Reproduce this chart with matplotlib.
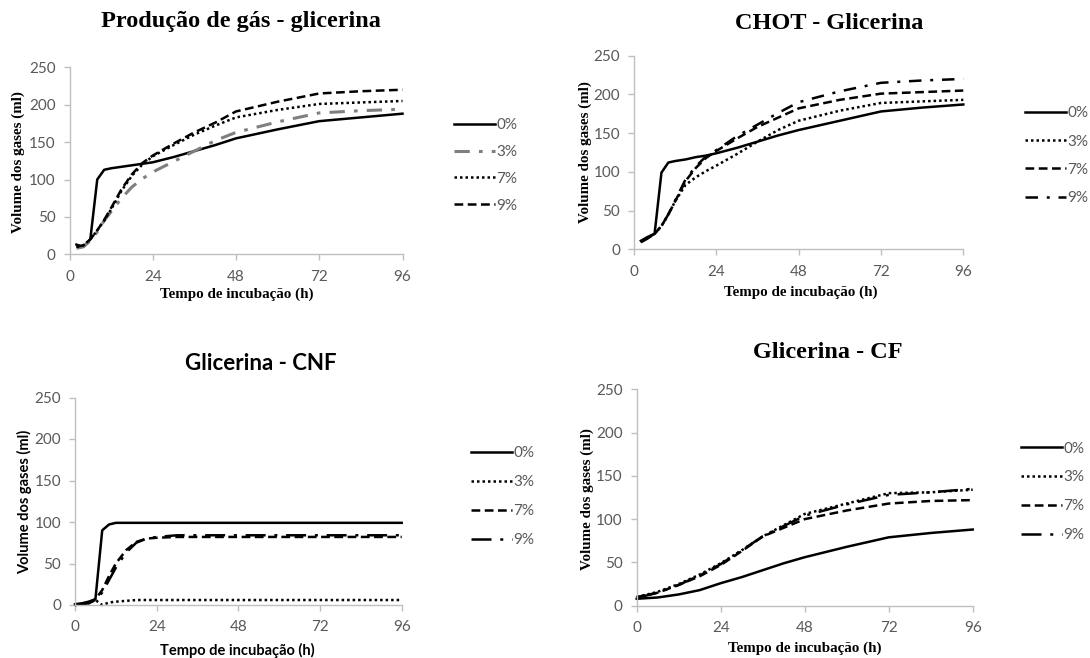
import matplotlib
matplotlib.use('Agg')
import matplotlib.pyplot as plt

# ---------------- data ----------------
labels = ['0%', '3%', '7%', '9%']
xticks = [0, 24, 48, 72, 96]
yticks = [0, 50, 100, 150, 200, 250]

# Panel 1: Produção de gás - glicerina
t1 = [2, 4, 6, 8, 10, 12, 15, 18, 21, 24, 30, 36, 42, 48, 60, 72, 84, 96]
p1_0 = [13, 10, 20, 100, 113, 115, 117, 119, 121, 123, 130, 138, 146, 155, 167, 178, 183, 188]
p1_3 = [8, 10, 18, 30, 45, 57, 75, 90, 101, 110, 124, 138, 152, 163, 177, 189, 192, 194]
p1_7 = [10, 12, 20, 32, 45, 60, 85, 105, 120, 131, 146, 160, 172, 183, 193, 201, 203, 205]
p1_9 = [10, 12, 20, 32, 46, 62, 87, 107, 122, 132, 148, 163, 176, 191, 204, 215, 218, 220]

# Panel 2: CHOT - Glicerina
t2 = [2, 4, 6, 8, 10, 12, 15, 18, 21, 24, 30, 36, 42, 48, 60, 72, 84, 96]
p2_0 = [11, 16, 20, 99, 112, 114, 116, 119, 121, 124, 131, 139, 147, 154, 166, 178, 183, 187]
p2_3 = [10, 15, 20, 30, 45, 62, 83, 93, 101, 108, 123, 139, 154, 166, 179, 189, 191, 193]
p2_7 = [10, 15, 20, 30, 45, 62, 88, 105, 118, 127, 143, 158, 170, 182, 193, 201, 203, 205]
p2_9 = [9, 14, 20, 30, 45, 63, 90, 107, 120, 128, 146, 161, 176, 190, 204, 215, 218, 220]

# Panel 3: Glicerina - CNF
t3 = [0, 2, 4, 6, 8, 10, 12, 15, 18, 21, 24, 30, 36, 48, 60, 72, 84, 96]
p3_0 = [1, 2, 4, 7, 90, 97, 99, 99, 99, 99, 99, 99, 99, 99, 99, 99, 99, 99]
p3_3 = [0, 1, 3, 6, 0, 3, 4, 5, 6, 6, 6, 6, 6, 6, 6, 6, 6, 6]
p3_7 = [0, 1, 2, 7, 18, 35, 50, 66, 76, 80, 81, 82, 82, 82, 82, 82, 82, 82]
p3_9 = [0, 1, 2, 6, 15, 30, 45, 63, 75, 80, 82, 84, 84, 84, 84, 84, 84, 84]

# Panel 4: Glicerina - CF
t4 = [0, 6, 12, 18, 24, 30, 36, 42, 48, 60, 72, 84, 96]
p4_0 = [8, 9.5, 13, 18, 26, 33, 41, 49, 56, 68, 79, 84, 88]
p4_3 = [10, 16, 25, 36, 49, 64, 80, 93, 106, 118, 130, 131, 134]
p4_7 = [10, 15, 24, 34, 47, 63, 80, 90, 100, 110, 118, 121, 122]
p4_9 = [9, 15, 24, 35, 48, 64, 80, 92, 104, 117, 128, 131, 135]

# ---------------- styles ----------------
SERIF = 'Liberation Serif'
SANS = 'Lato'
TICKC = '#595959'
AXC = '#bfbfbf'
LW = 1.8

solid = dict(color='black', linestyle='-', linewidth=LW)
dotted = dict(color='black', linestyle=(0, (1, 1.2)), linewidth=LW)
dashed = dict(color='black', linestyle=(0, (3.5, 1.8)), linewidth=LW)
gray_dashdot = dict(color='#7f7f7f', linestyle=(0, (5, 3, 1.2, 3)), linewidth=LW + 0.4)
dashdot = dict(color='black', linestyle=(0, (5, 3.5, 1.2, 3.5)), linewidth=LW)
longdashdot = dict(color='black', linestyle=(0, (8, 3.5, 1.2, 3.5)), linewidth=LW)

W, H = 1090, 658
fig = plt.figure(figsize=(W / 100, H / 100), dpi=100)


def add_axes(x0, x1, ytop, ybot):
    return fig.add_axes([x0 / W, 1 - ybot / H, (x1 - x0) / W, (ybot - ytop) / H])


def style(ax):
    ax.set_xlim(0, 96)
    ax.set_ylim(0, 250)
    ax.set_xticks(xticks)
    ax.set_yticks(yticks)
    for s in ['top', 'right']:
        ax.spines[s].set_visible(False)
    for s in ['left', 'bottom']:
        ax.spines[s].set_color(AXC)
        ax.spines[s].set_linewidth(1.0)
    ax.tick_params(direction='out', length=4, width=1, color=AXC,
                   labelcolor=TICKC, labelsize=11)
    ax.tick_params(axis='x', pad=7)
    ax.tick_params(axis='y', pad=6)
    for lab in ax.get_xticklabels() + ax.get_yticklabels():
        lab.set_fontfamily(SANS)
    ax.patch.set_alpha(0)


def draw(ax, t, series, styles, lx, ly, spacing):
    handles = []
    for y, st, lab in zip(series, styles, labels):
        h, = ax.plot(t, y, label=lab, clip_on=False, **st)
        handles.append(h)
    leg = ax.legend(handles=handles, loc='center left',
                    bbox_to_anchor=(lx / W, 1 - ly / H),
                    bbox_transform=fig.transFigure, frameon=False,
                    handlelength=2.7, handletextpad=0.08, labelspacing=spacing,
                    borderpad=0, borderaxespad=0,
                    prop=dict(family=SANS, size=11))
    for tx in leg.get_texts():
        tx.set_color(TICKC)


# Panel 1
ax1 = add_axes(69.5, 402.5, 67.3, 254.3)
style(ax1)
draw(ax1, t1, [p1_0, p1_3, p1_7, p1_9], [solid, gray_dashdot, dotted, dashed], 454, 165.3, 0.84)
# Panel 2
ax2 = add_axes(634, 963.3, 55.7, 249.3)
style(ax2)
draw(ax2, t2, [p2_0, p2_3, p2_7, p2_9], [solid, dotted, dashed, dashdot], 1025, 155.7, 0.93)
# Panel 3
ax3 = add_axes(75, 401.7, 397.5, 605)
style(ax3)
draw(ax3, t3, [p3_0, p3_3, p3_7, p3_9], [solid, dotted, dashed, longdashdot], 471, 496.8, 0.98)
# Panel 4
ax4 = add_axes(636.7, 972.7, 389.3, 605.7)
style(ax4)
draw(ax4, t4, [p4_0, p4_3, p4_7, p4_9], [solid, dotted, dashed, longdashdot], 1021, 491.8, 0.97)


def ftext(x, y, s, **kw):
    fig.text(x / W, 1 - y / H, s, ha='center', va='center', **kw)


# titles
ftext(240.5, 22, 'Produção de gás - glicerina', family=SERIF, weight='bold', size=17.5)
ftext(829.5, 23.5, 'CHOT - Glicerina', family=SERIF, weight='bold', size=17.5)
ftext(261, 363.5, 'Glicerina - CNF', family=SANS, weight='bold', size=16)
ftext(827.5, 352, 'Glicerina - CF', family=SERIF, weight='bold', size=17.5)

# axis labels
xl = 'Tempo de incubação (h)'
yl = 'Volume dos gases (ml)'
ftext(236.5, 294, xl, family=SERIF, weight='bold', size=10.8)
ftext(801, 292, xl, family=SERIF, weight='bold', size=10.8)
ftext(237.5, 650, xl, family=SANS, weight='bold', size=10.5)
ftext(805, 648, xl, family=SERIF, weight='bold', size=10.8)
ftext(18, 162, yl, family=SERIF, weight='bold', size=10.8, rotation=90)
ftext(585, 152.5, yl, family=SERIF, weight='bold', size=10.8, rotation=90)
ftext(24.5, 501.5, yl, family=SANS, weight='bold', size=10.5, rotation=90)
ftext(587, 499, yl, family=SERIF, weight='bold', size=10.8, rotation=90)

fig.savefig('out.png', dpi=100)
